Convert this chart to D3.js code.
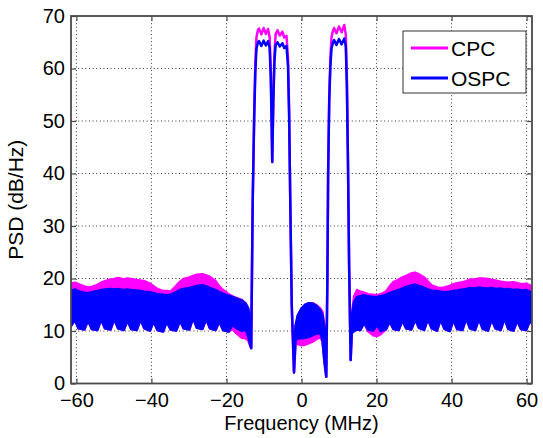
<!DOCTYPE html>
<html>
<head>
<meta charset="utf-8">
<script src="https://cdn.jsdelivr.net/npm/d3@7"></script>
<style>
  body { margin: 0; background: #fff; }
  text { font-family: Arial, "Liberation Sans", Helvetica, sans-serif; fill: #000; }
</style>
</head>
<body>
<svg id="chart" width="543" height="438"></svg>
<script>
// PSD: each trace is a dense band, kept as upper / lower envelope
var freqMHz = [
  -61.44, -60.4, -59.4, -57.9, -56.9, -55.9, -54.4, -53.4, -52.4, -50.9,
  -49.9, -48.9, -47.4, -46.4, -45.4, -43.9, -42.9, -41.9, -40.4, -39.4,
  -38.4, -36.9, -35.9, -34.9, -33.4, -32.4, -31.4, -29.9, -28.9, -27.9,
  -26.4, -25.4, -24.4, -22.9, -21.9, -20.9, -19.4, -18.4, -17.4, -15.9,
  -14.9, -14.2, -13.7, -13.4,
  -13.0, -12.6, -12.3, -12.0, -11.6, -11.3, -10.7, -10.1, -9.5, -8.9,
  -8.5, -8.2, -8.0, -7.8, -7.5, -7.2, -6.9, -6.4, -5.8, -5.1,
  -4.6, -4.0, -3.6, -3.3, -3.0, -2.6, -2.0, -1.6, -1.0, 0.0,
  1.0, 2.0, 3.0, 4.0, 5.0, 5.6, 6.1, 6.6, 6.9, 7.1,
  7.4, 7.7, 8.0, 8.4, 8.7, 9.3, 10.0, 10.7, 11.4, 11.8,
  12.1, 12.4, 12.7, 13.1,
  13.4, 14.0, 14.8, 15.7, 16.7, 17.7, 19.1, 20.1, 21.1, 22.5,
  23.5, 24.5, 25.9, 26.9, 27.9, 29.3, 30.3, 31.3, 32.7, 33.7,
  34.7, 36.1, 37.1, 38.1, 39.5, 40.5, 41.5, 42.9, 43.9, 44.9,
  46.3, 47.3, 48.3, 49.7, 50.7, 51.7, 53.1, 54.1, 55.1, 56.5,
  57.5, 58.5, 59.9, 60.9, 61.44
];

var cpcHigh = [
  19.0, 19.2, 18.9, 18.5, 18.3, 18.4, 18.8, 19.2, 19.5, 19.8,
  19.9, 20.1, 19.8, 20.0, 19.9, 19.7, 19.6, 19.5, 19.0, 18.5,
  18.0, 17.6, 17.6, 17.5, 18.6, 19.4, 19.9, 20.2, 20.5, 20.7,
  20.8, 20.6, 20.3, 19.5, 18.5, 17.8, 17.0, 16.6, 16.3, 15.9,
  15.3, 14.2, 12.0, 8.5,
  35, 52, 61, 66, 67.4, 67.6, 66.5, 67.7, 66.6, 67.5,
  66.0, 60, 52, 42.2, 55, 63, 66.5, 67.3, 66.3, 67.0,
  65.9, 66.2, 62, 52, 35, 15, 2.1, 10.5, 12.8, 14.2,
  15.0, 15.3, 15.3, 14.9, 14.3, 13.6, 11.0, 1.3, 20, 40,
  55, 62, 66, 67.2, 67.7, 66.7, 68.0, 66.9, 68.3, 66.5,
  58, 42, 22, 4.5,
  13.0, 16.5, 17.8, 17.5, 17.3, 17.0, 16.9, 16.8, 17.0, 17.5,
  18.5, 19.3, 19.8, 20.2, 20.5, 21.0, 21.1, 20.8, 20.2, 19.4,
  18.7, 18.3, 18.2, 18.3, 18.6, 18.9, 19.1, 19.3, 19.5, 19.8,
  19.8, 20.0, 20.0, 19.9, 19.7, 19.6, 19.4, 19.3, 19.2, 19.3,
  19.1, 18.9, 19.0, 18.7, 18.5
];

var cpcLow = [
  11.0, 12.1, 10.5, 10.3, 12.0, 10.4, 10.2, 12.2, 10.5, 10.3,
  12.3, 10.5, 10.2, 12.0, 10.4, 10.2, 12.2, 10.5, 10.1, 11.8,
  10.2, 9.9, 11.8, 10.3, 10.1, 12.0, 10.5, 10.3, 12.5, 10.6,
  10.4, 12.3, 10.5, 10.2, 11.8, 10.2, 9.9, 10.4, 9.6, 8.7,
  8.6, 8.2, 7.2, 6.8,
  35, 52, 61, 66, 67.4, 67.6, 66.5, 67.7, 66.6, 67.5,
  66.0, 60, 52, 42.2, 55, 63, 66.5, 67.3, 66.3, 67.0,
  65.9, 66.2, 62, 52, 35, 15, 2.1, 7.6, 7.5, 7.3,
  7.4, 7.7, 8.0, 8.5, 8.8, 8.0, 4.5, 1.3, 20, 40,
  55, 62, 66, 67.2, 67.7, 66.7, 68.0, 66.9, 68.3, 66.5,
  58, 42, 22, 4.5,
  9.6, 10.0, 10.3, 10.2, 11.6, 10.0, 9.2, 9.0, 9.4, 10.3,
  11.8, 10.4, 10.2, 12.0, 10.5, 10.3, 12.2, 10.6, 10.2, 12.3,
  10.5, 10.1, 12.2, 10.4, 10.0, 12.1, 10.4, 10.2, 12.4, 10.5,
  10.2, 12.3, 10.4, 10.1, 12.2, 10.5, 10.2, 12.4, 10.4, 10.1,
  12.0, 10.4, 10.2, 12.0, 11.4
];

var ospcHigh = [
  17.6, 17.9, 17.6, 17.3, 17.2, 17.4, 17.6, 17.8, 17.9, 18.0,
  17.9, 18.0, 17.8, 17.9, 17.8, 17.7, 17.6, 17.5, 17.4, 17.2,
  17.0, 16.9, 16.8, 16.9, 17.4, 17.8, 18.0, 18.2, 18.4, 18.6,
  18.7, 18.5, 18.2, 17.8, 17.4, 17.1, 16.7, 16.5, 16.2, 15.8,
  15.2, 14.3, 11.5, 8.0,
  35, 51, 59.5, 63.8, 65.0, 65.2, 64.3, 65.3, 64.4, 65.2,
  64.0, 58.5, 51, 42.2, 54, 61.5, 64.5, 65.0, 64.2, 64.8,
  63.9, 64.3, 60.5, 51, 35, 15, 2.1, 11.0, 13.0, 14.3,
  15.0, 15.3, 15.2, 14.8, 14.0, 13.0, 10.5, 1.3, 20, 40,
  54, 60.5, 63.8, 65.0, 65.4, 64.5, 65.6, 64.6, 65.7, 64.3,
  56.5, 41, 22, 4.5,
  12.5, 15.5, 16.5, 16.6, 16.8, 16.6, 16.5, 16.5, 16.6, 16.9,
  17.2, 17.5, 17.8, 18.1, 18.4, 18.7, 18.8, 18.6, 18.2, 17.9,
  17.7, 17.6, 17.5, 17.4, 17.5, 17.6, 17.7, 17.9, 18.0, 18.2,
  18.1, 18.3, 18.2, 18.1, 18.2, 18.0, 18.1, 17.9, 18.0, 17.8,
  17.9, 17.7, 17.8, 17.5, 17.4
];

var ospcLow = [
  11.0, 12.1, 10.5, 10.3, 12.0, 10.4, 10.2, 12.2, 10.5, 10.3,
  12.3, 10.5, 10.2, 12.0, 10.4, 10.2, 12.2, 10.5, 10.1, 11.8,
  10.2, 9.9, 11.8, 10.3, 10.1, 12.0, 10.5, 10.3, 12.5, 10.6,
  10.4, 12.3, 10.5, 10.2, 11.8, 10.2, 9.9, 11.2, 10.6, 10.0,
  10.3, 9.0, 7.5, 6.7,
  35, 51, 59.5, 63.8, 65.0, 65.2, 64.3, 65.3, 64.4, 65.2,
  64.0, 58.5, 51, 42.2, 54, 61.5, 64.5, 65.0, 64.2, 64.8,
  63.9, 64.3, 60.5, 51, 35, 15, 2.1, 8.2, 8.6, 8.6,
  8.7, 8.9, 9.2, 9.5, 9.6, 8.2, 4.2, 1.3, 20, 40,
  54, 60.5, 63.8, 65.0, 65.4, 64.5, 65.6, 64.6, 65.7, 64.3,
  56.5, 41, 22, 4.5,
  9.6, 10.0, 10.3, 10.2, 11.6, 10.3, 10.1, 11.2, 10.0, 10.3,
  11.8, 10.4, 10.2, 12.0, 10.5, 10.3, 12.2, 10.6, 10.2, 12.3,
  10.5, 10.1, 12.2, 10.4, 10.0, 12.1, 10.4, 10.2, 12.4, 10.5,
  10.2, 12.3, 10.4, 10.1, 12.2, 10.5, 10.2, 12.4, 10.4, 10.1,
  12.0, 10.4, 10.2, 12.0, 11.4
];

var xTicks = [-60, -40, -20, 0, 20, 40, 60];
var yTicks = [0, 10, 20, 30, 40, 50, 60, 70];
var seriesNames = ["CPC", "OSPC"];
var seriesColors = ["#ff00ff", "#0000ff"];

var svg = d3.select("#chart");
var plotLeft = 71, plotRight = 532, plotTop = 16, plotBottom = 383.5;

var x = d3.scaleLinear().domain([-61.44, 61.44]).range([plotLeft, plotRight]);
var y = d3.scaleLinear().domain([0, 70]).range([plotBottom, plotTop]);

svg.append("clipPath").attr("id", "plotClip")
  .append("rect").attr("x", plotLeft).attr("y", plotTop)
  .attr("width", plotRight - plotLeft).attr("height", plotBottom - plotTop);

// dotted grid, under the data
var grid = svg.append("g").attr("class", "grid")
  .attr("stroke", "#333").attr("stroke-width", 1).attr("stroke-dasharray", "1,2.6");
grid.selectAll("line.gx").data(xTicks).enter().append("line")
  .attr("x1", function(d) { return x(d); }).attr("x2", function(d) { return x(d); })
  .attr("y1", plotTop).attr("y2", plotBottom);
grid.selectAll("line.gy").data(yTicks.slice(1, -1)).enter().append("line")
  .attr("x1", plotLeft).attr("x2", plotRight)
  .attr("y1", function(d) { return y(d); }).attr("y2", function(d) { return y(d); });

// the two PSD bands
var plot = svg.append("g").attr("clip-path", "url(#plotClip)");
function band(hi, lo) {
  return d3.area()
    .x(function(d, i) { return x(freqMHz[i]); })
    .y0(function(d, i) { return y(lo[i]); })
    .y1(function(d, i) { return y(hi[i]); });
}
[[cpcHigh, cpcLow], [ospcHigh, ospcLow]].forEach(function(s, k) {
  plot.append("path").datum(freqMHz)
    .attr("d", band(s[0], s[1]))
    .attr("fill", seriesColors[k])
    .attr("stroke", seriesColors[k])
    .attr("stroke-width", 2.5)
    .attr("stroke-linejoin", "round");
});

// axes: ticks inside on all four sides
var axisColor = "#4a4a4a";
var gx = svg.append("g").attr("transform", "translate(0," + plotBottom + ")")
  .call(d3.axisBottom(x).tickValues(xTicks).tickSizeInner(-5).tickSizeOuter(0).tickPadding(9));
var gxt = svg.append("g").attr("transform", "translate(0," + plotTop + ")")
  .call(d3.axisTop(x).tickValues(xTicks).tickSizeInner(-5).tickSizeOuter(0).tickFormat(""));
var gy = svg.append("g").attr("transform", "translate(" + plotLeft + ",0)")
  .call(d3.axisLeft(y).tickValues(yTicks).tickSizeInner(-5).tickSizeOuter(0).tickPadding(6));
var gyr = svg.append("g").attr("transform", "translate(" + plotRight + ",0)")
  .call(d3.axisRight(y).tickValues(yTicks).tickSizeInner(-5).tickSizeOuter(0).tickFormat(""));

[gx, gxt, gy, gyr].forEach(function(g) {
  g.select(".domain").remove();
  g.selectAll(".tick line").attr("stroke", axisColor).attr("stroke-width", 1.2);
  g.selectAll("text").style("font-family", "Arial, 'Liberation Sans', sans-serif")
    .style("font-size", "20px").attr("fill", "#000");
});

svg.append("rect")
  .attr("x", plotLeft).attr("y", plotTop)
  .attr("width", plotRight - plotLeft).attr("height", plotBottom - plotTop)
  .attr("fill", "none").attr("stroke", axisColor).attr("stroke-width", 1.8);

// axis titles
svg.append("text")
  .attr("x", (plotLeft + plotRight) / 2).attr("y", 430)
  .attr("text-anchor", "middle").style("font-size", "20px")
  .text("Frequency (MHz)");
svg.append("text")
  .attr("transform", "translate(23," + ((plotTop + plotBottom) / 2) + ") rotate(-90)")
  .attr("text-anchor", "middle").style("font-size", "21px")
  .text("PSD (dB/Hz)");

// legend
var legend = svg.append("g");
legend.append("rect")
  .attr("x", 403).attr("y", 31).attr("width", 123).attr("height", 62)
  .attr("fill", "#fff").attr("stroke", "#333").attr("stroke-width", 1);
seriesNames.forEach(function(name, i) {
  var ly = 48 + i * 30;
  legend.append("line")
    .attr("x1", 411).attr("x2", 448).attr("y1", ly).attr("y2", ly)
    .attr("stroke", seriesColors[i]).attr("stroke-width", 3);
  legend.append("text")
    .attr("x", 451).attr("y", ly).attr("dy", "0.36em")
    .style("font-size", "21px")
    .text(name);
});
</script>
</body>
</html>
